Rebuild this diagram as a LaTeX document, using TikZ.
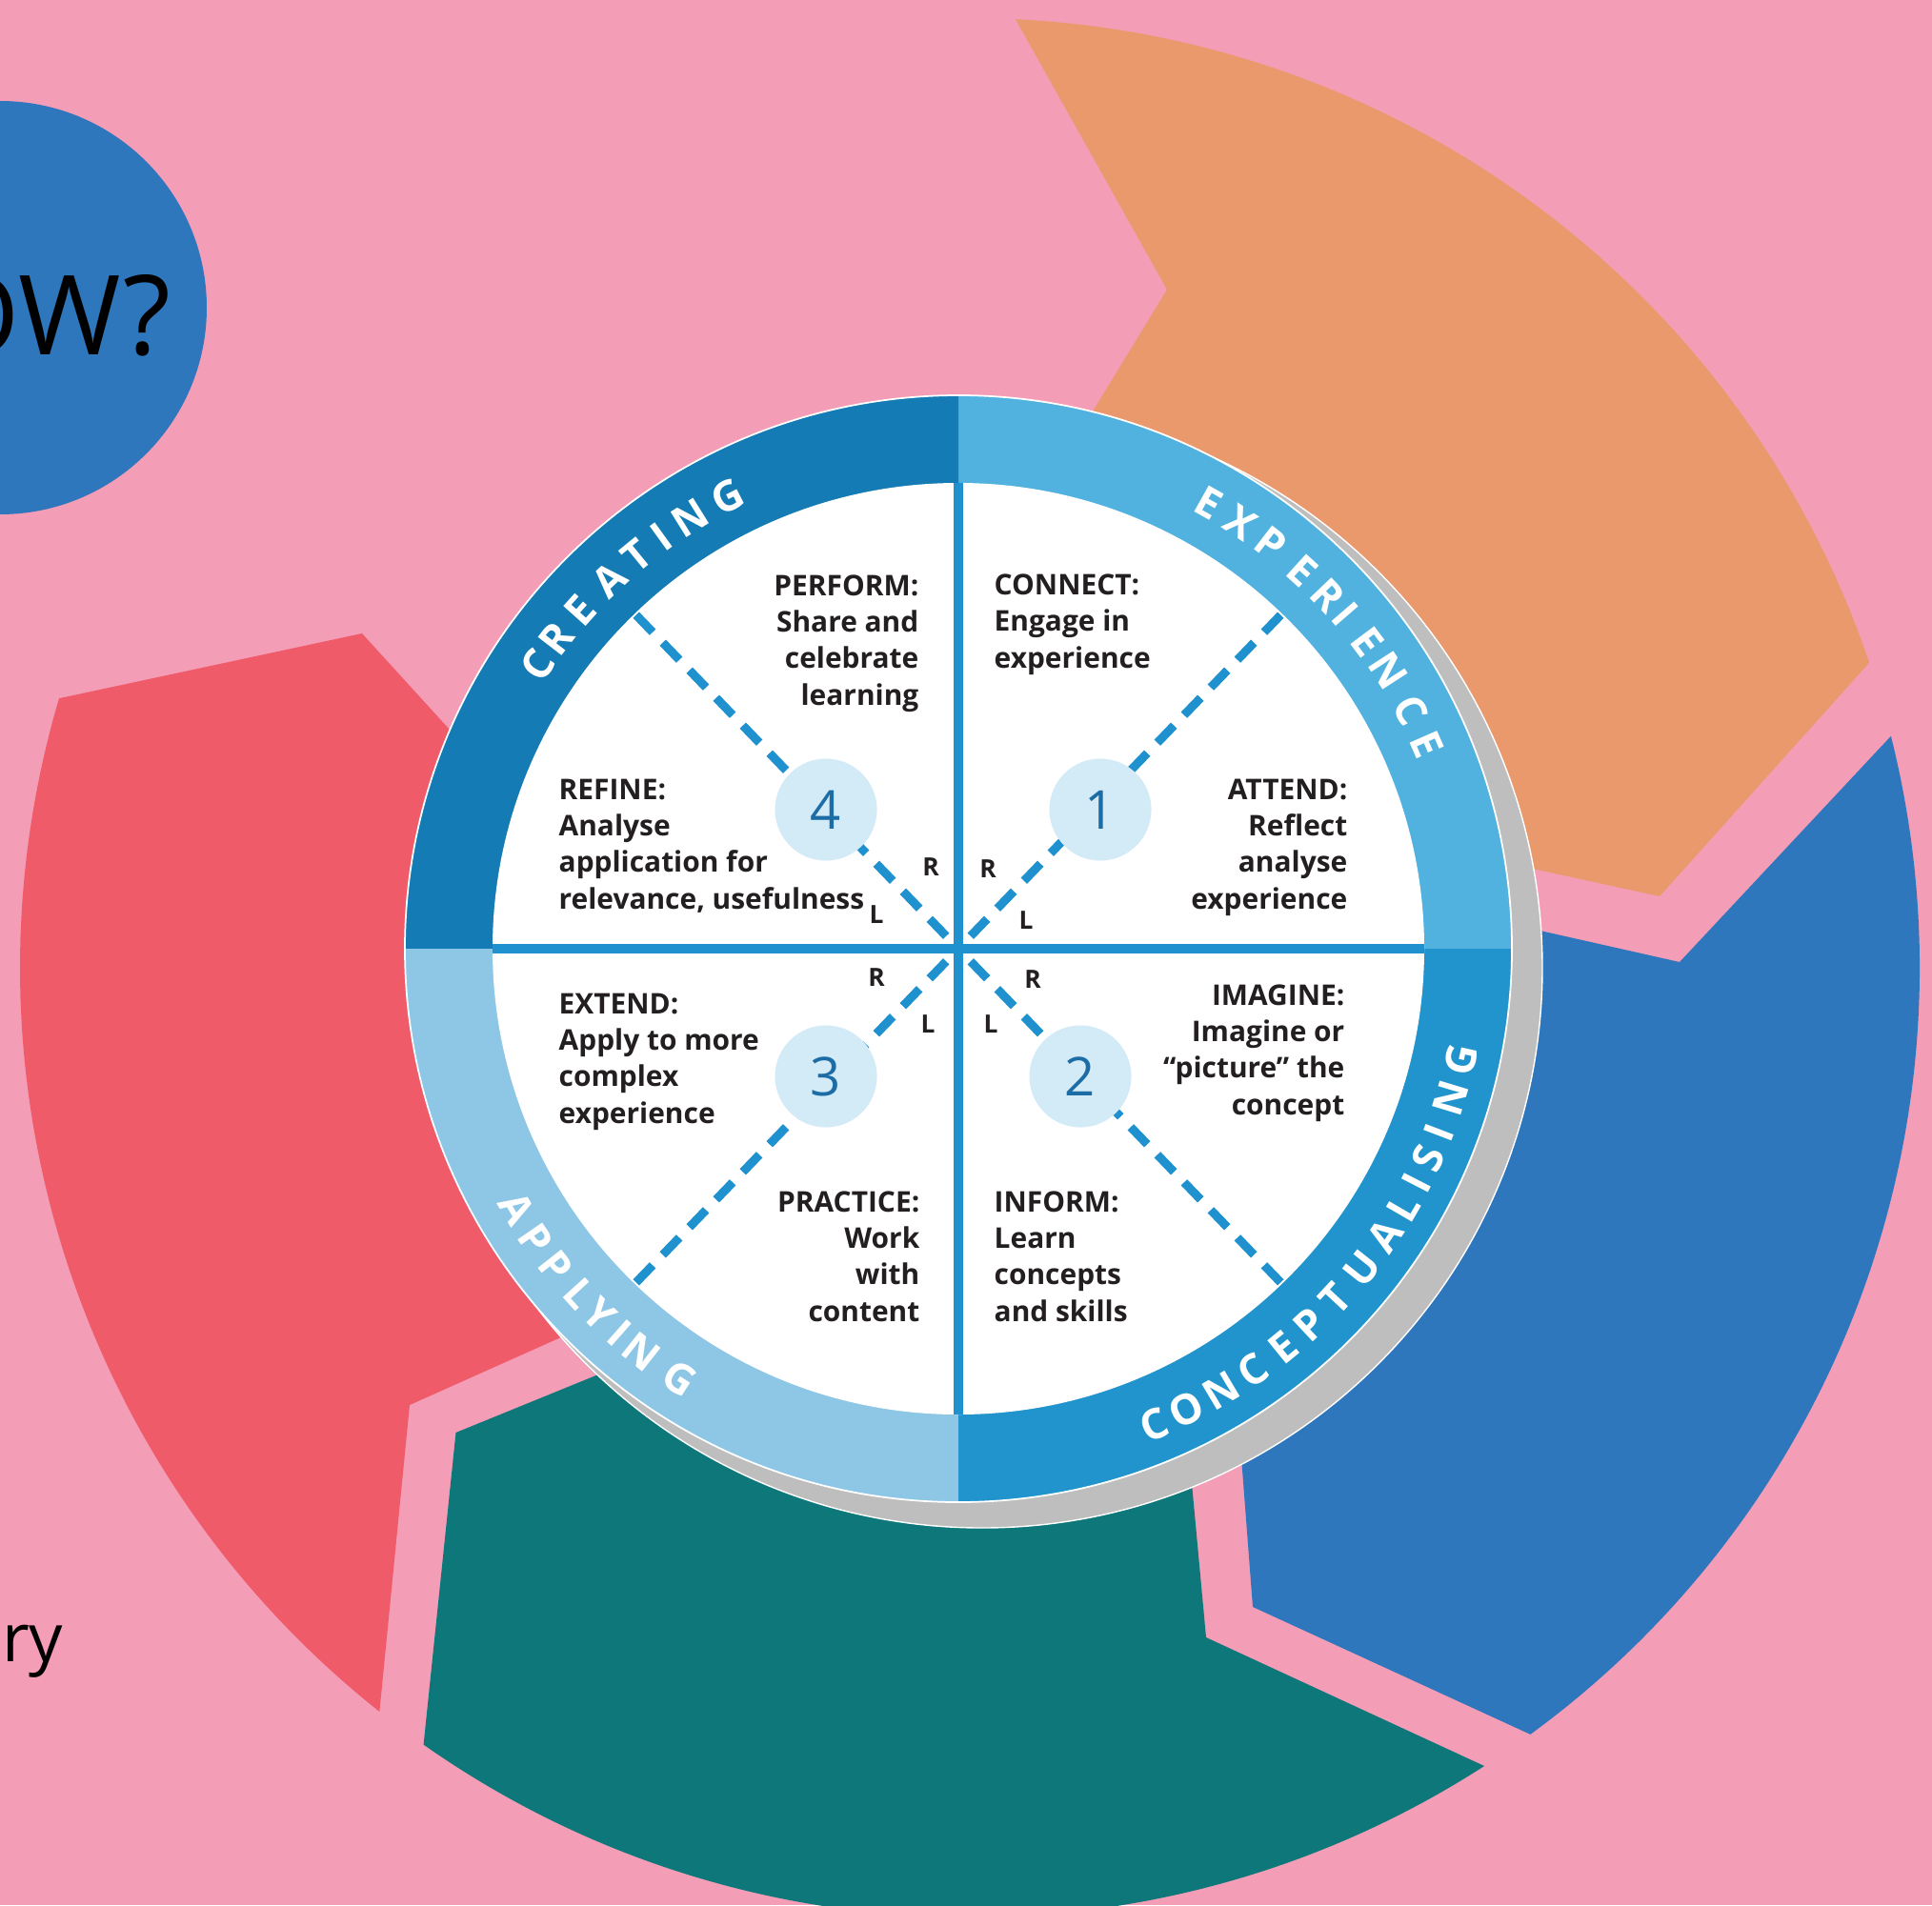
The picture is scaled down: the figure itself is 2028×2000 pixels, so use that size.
\documentclass[tikz,border=0pt]{standalone}
\usepackage{fontspec}
\setmainfont{Open Sans}
\usetikzlibrary{calc}
\definecolor{bgpink}{HTML}{F39DB7}
\definecolor{segorange}{HTML}{EA996C}
\definecolor{segblue}{HTML}{2E77BD}
\definecolor{segteal}{HTML}{0D7779}
\definecolor{segred}{HTML}{F05B6A}
\definecolor{ringA}{HTML}{147BB4}
\definecolor{ringB}{HTML}{51B2E0}
\definecolor{ringC}{HTML}{2194CD}
\definecolor{ringD}{HTML}{8EC6E6}
\definecolor{shadowgray}{HTML}{BEBEBE}
\definecolor{divblue}{HTML}{1F91CF}
\definecolor{numfill}{HTML}{D3EAF7}
\definecolor{numtext}{HTML}{1C6DA6}
\definecolor{txtdark}{HTML}{231F20}
\begin{document}
\begin{tikzpicture}[x=0.01cm, y=-0.01cm,
  qtext/.style={font=\bfseries\fontsize{8.5}{10.9}\selectfont, text=txtdark, inner sep=0pt},
  qleft/.style={qtext, align=left, anchor=base west},
  qright/.style={qtext, align=right, anchor=base east},
  rltext/.style={font=\bfseries\fontsize{7.5}{7.5}\selectfont, text=txtdark, inner sep=0pt},
  numcirc/.style={circle, fill=numfill, minimum size=1.07cm, inner sep=0pt, text=numtext, font=\fontsize{16}{16}\selectfont},
  ringtxt/.style={font=\bfseries\fontsize{12.5}{12.5}\selectfont, text=white, inner sep=0pt, anchor=center},
  dashline/.style={draw=divblue, line width=0.09cm, dash pattern=on 0.25cm off 0.153cm},
  divline/.style={draw=divblue, line width=0.1cm}
]
\useasboundingbox (0,0) rectangle (2028,2000);
\clip (0,0) rectangle (2028,2000);
\fill[bgpink] (0,0) rectangle (2028,2000);

% title circle and texts
\fill[segblue] (0,323) circle[radius=217];
\node[anchor=base east, inner sep=0pt, font=\fontsize{33}{33}\selectfont] (howtext) at (180,372) {OW?};
\node[anchor=base east, inner sep=0pt, font=\fontsize{20}{20}\selectfont] (rytext) at (67,1744) {ry};

% big chevron ring segments
\coordinate (rc) at (1018,1016);
\fill[segorange] ($(rc)+(-87.24:997)$) arc[start angle=-87.24, end angle=-18.74, radius=997]
  -- (1742,941) -- (1343,854) -- (1000,673) -- (1225,304) -- cycle;
\fill[segblue] ($(rc)+(-14.12:997)$) arc[start angle=-14.12, end angle=53.83, radius=997]
  -- (1315,1687) -- (1285,1294) -- (1337,914) -- (1763,1010) -- cycle;
\fill[segteal] ($(rc)+(57.2:997)$) arc[start angle=57.2, end angle=125.11, radius=997]
  -- (478.5,1504) -- (905,1330) -- (1227,1299) -- (1266,1719) -- cycle;
\fill[segred] ($(rc)+(128.43:997)$) arc[start angle=128.43, end angle=196.48, radius=997]
  -- (380,665) -- (665,978) -- (886,1271) -- (430,1475) -- cycle;

% wheel
\coordinate (wc) at (1006,996);
\fill[shadowgray, draw=white, line width=0.4pt] (1031,1016) circle[radius=588];
\fill[ringB] (wc) -- ($(wc)+(0:581)$) arc[start angle=0, end angle=-90, radius=581] -- cycle;
\fill[ringA] (wc) -- ($(wc)+(-90:581)$) arc[start angle=-90, end angle=-180, radius=581] -- cycle;
\fill[ringD] (wc) -- ($(wc)+(180:581)$) arc[start angle=180, end angle=90, radius=581] -- cycle;
\fill[ringC] (wc) -- ($(wc)+(90:581)$) arc[start angle=90, end angle=0, radius=581] -- cycle;
\draw[white, line width=0.5pt] (wc) circle[radius=581];
\fill[white] (wc) circle[radius=489];

% dividers
\draw[divline] ($(wc)+(0,-489)$) -- ($(wc)+(0,489)$);
\draw[divline] ($(wc)+(-489,0)$) -- ($(wc)+(489,0)$);

% dashed diagonals
\draw[dashline] ($(wc)+(-134:487)$) -- (wc);
\draw[dashline] ($(wc)+(-46:487)$) -- (wc);
\draw[dashline] ($(wc)+(46:487)$) -- (wc);
\draw[dashline] ($(wc)+(134:487)$) -- (wc);

% number circles
\node[numcirc] (n1) at (1155,850) {1};
\node[numcirc] (n2) at (1134,1130) {2};
\node[numcirc] (n3) at (867,1130) {3};
\node[numcirc] (n4) at (867,850) {4};

% R / L labels
\node[rltext] (r4) at (977,910) {R};
\node[rltext] (l4) at (920,960) {L};
\node[rltext] (r1) at (1037,912) {R};
\node[rltext] (l1) at (1077,966) {L};
\node[rltext] (r3) at (920,1026) {R};
\node[rltext] (l3) at (974,1075) {L};
\node[rltext] (r2) at (1084,1028) {R};
\node[rltext] (l2) at (1040,1075) {L};

% quadrant texts (anchored at the baseline of the last line)
\node[qright] (perform) at (965,740) {PERFORM:\\Share and\\celebrate\\learning};
\node[qleft] (refine) at (586,954) {REFINE:\\Analyse\\application for\\relevance, usefulness};
\node[qleft] (connect) at (1043,701) {CONNECT:\\Engage in\\experience};
\node[qright] (attend) at (1415,954) {ATTEND:\\Reflect\\analyse\\experience};
\node[qleft] (extend) at (586,1179) {EXTEND:\\Apply to more\\complex\\experience};
\node[qright] (practice) at (966,1387) {PRACTICE:\\Work\\with\\content};
\node[qright] (imagine) at (1412,1170) {IMAGINE:\\Imagine or\\``picture'' the\\concept};
\node[qleft] (inform) at (1043,1387) {INFORM:\\Learn\\concepts\\and skills};

% ring words
\foreach \ch/\ang [count=\i] in {C/146.0,R/142.4,E/138.2,A/133.4,T/129.3,I/125.8,N/121.9,G/117.0}
  \node[ringtxt, rotate=\ang-90] (cre\i) at ($(wc)+({-\ang}:533)$) {\ch};
\foreach \ch/\ang [count=\i] in {E/60.7,X/56.5,P/52.4,E/47.7,R/43.7,I/40.8,E/36.9,N/32.9,C/27.8,E/23.6}
  \node[ringtxt, rotate=\ang-90] (exp\i) at ($(wc)+({-\ang}:537)$) {\ch};
\foreach \ch/\ang [count=\i] in {C/-67.6,O/-63.7,N/-59.3,C/-55.1,E/-50.8,P/-46.9,T/-42.9,U/-38.4,A/-33.9,L/-30.2,I/-27.1,S/-24.0,I/-20.9,N/-16.9,G/-12.5}
  \node[ringtxt, rotate=\ang+90] (con\i) at ($(wc)+({-\ang}:540)$) {\ch};
\foreach \ch/\ang [count=\i] in {A/210.5,P/214.5,P/218.3,L/222.3,Y/225.5,I/228.6,N/231.8,G/237.0}
  \node[ringtxt, rotate=\ang+90] (app\i) at ($(wc)+({-\ang}:538)$) {\ch};
\end{tikzpicture}
\end{document}
